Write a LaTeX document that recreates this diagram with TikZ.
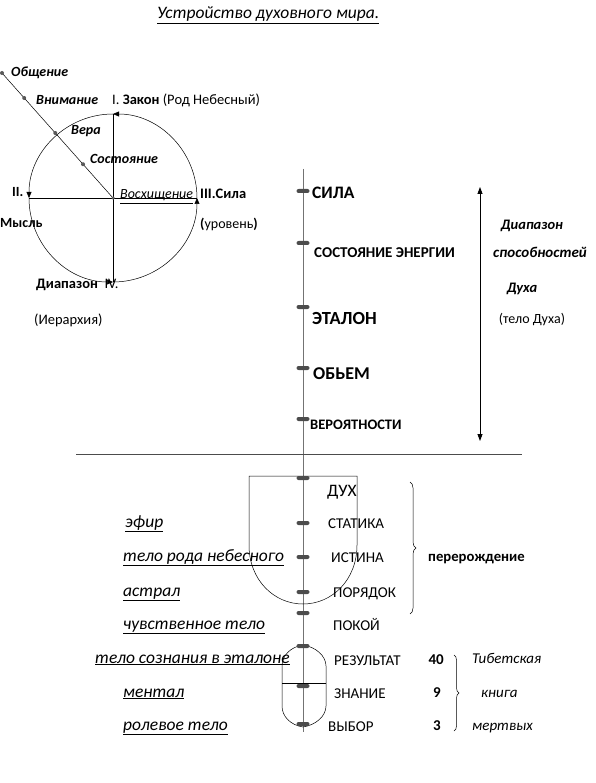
\documentclass[tikz,border=0pt]{standalone}
\usepackage{fontspec}
\setmainfont{Carlito}
\usetikzlibrary{arrows.meta,calc,decorations.pathreplacing}
\newcommand{\fs}[1]{\fontsize{#1}{#1}\selectfont}
\newcommand{\ulx}[1]{\underline{#1}}
\begin{document}
\begin{tikzpicture}[x=1pt,y=1pt,
  lab/.style={inner sep=0pt,anchor=base west},
  labr/.style={inner sep=0pt,anchor=base east},
  labc/.style={inner sep=0pt,anchor=base},
  circ/.style={font=\fs{14.5}},
  bi/.style={font=\fs{14}\bfseries\itshape},
  caps/.style={font=\fs{15}},
  body/.style={font=\fs{17.5}\itshape},
  tick/.style={draw=none,fill=black!70,rounded corners=2pt,minimum width=13pt,minimum height=4pt,inner sep=0pt},
  thin/.style={draw=black,line width=0.5pt},
  arr/.style={-{Triangle[length=6pt,width=5pt]}},
  dot/.style={circle,fill=black!65,inner sep=0pt,minimum size=4pt},
  brc/.style={decorate,decoration={brace,amplitude=6pt},line width=0.5pt}
]
\useasboundingbox (0,0) rectangle (595,-783);
\fill[white] (0,0) rectangle (595,-783);

% title
\node[lab,font=\fs{17.5}\itshape] (title) at (157,-19) {\ulx{Устройство духовного мира.}};

% circle
\coordinate (C) at (113,-198);
\coordinate (Ctop) at (113,-114);
\coordinate (Cbot) at (113,-282);
\coordinate (Cl) at (29,-198);
\coordinate (Cr) at (197,-198);
\draw[thin,arr] (Cr) arc[start angle=0,end angle=90,radius=84];
\draw[thin,arr] (Ctop) arc[start angle=90,end angle=180,radius=84];
\draw[thin,arr] (Cl) arc[start angle=180,end angle=270,radius=84];
\draw[thin,arr] (Cbot) arc[start angle=270,end angle=360,radius=84];
\draw[thin] (Ctop) -- (Cbot);
\draw[thin] (Cl) -- (Cr);
\coordinate (O) at (2,-73);
\draw[thin] (O) -- (C);
\node[dot] (d0) at (O) {};
\node[dot] (d1) at ($(O)!0.2!(C)$) {};
\node[dot] (d2) at ($(O)!0.48!(C)$) {};
\node[dot] (d3) at ($(O)!0.73!(C)$) {};
\node[dot,minimum size=3.5pt] (d4) at (C) {};

\node[lab,bi] (obsh) at (11,-77) {Общение};
\node[lab,bi] (vnim) at (36,-105) {Внимание};
\node[lab,circ] (zakon) at (112,-105) {I.\ \textbf{Закон} (Род Небесный)};
\node[lab,bi] (vera) at (71,-135) {Вера};
\node[lab,bi] (sost) at (90,-164) {Состояние};
\node[lab,font=\fs{14}\itshape] (vosh) at (120,-199) {\ulx{Восхищение}};
\node[lab,font=\fs{14.5}\bfseries] (sila3) at (200,-199) {III.Сила};
\node[lab,font=\fs{14}\bfseries] (ii) at (12,-197) {II.};
\node[lab,font=\fs{14}\bfseries] (mysl) at (0,-228) {Мысль};
\node[lab,font=\fs{14}] (urov) at (200,-229) {\textbf{(}уровень\textbf{)}};
\node[lab,circ] (diap) at (36,-288) {\textbf{Диапазон}\ \ IV.};
\node[lab,circ] (ier) at (34,-324) {(Иерархия)};

% main vertical line
\coordinate (vtop) at (303,-169);
\coordinate (vbot) at (303,-732);
\draw[black!55,line width=1pt] (vtop) -- (vbot);

% upper ticks
\node[tick] (t1) at (303,-191) {};
\node[tick] (t2) at (303,-243) {};
\node[tick] (t3) at (303,-307) {};
\node[tick] (t4) at (303,-368) {};
\node[tick] (t5) at (303,-419) {};
\node[lab,font=\fs{17.5}\bfseries] (sila) at (312,-199) {СИЛА};
\node[lab,font=\fs{15}\bfseries] (sosten) at (314,-258) {СОСТОЯНИЕ ЭНЕРГИИ};
\node[lab,font=\fs{18.5}\bfseries] (etalon) at (312,-324) {ЭТАЛОН};
\node[lab,font=\fs{18}\bfseries] (obem) at (313,-379) {ОБЬЕМ};
\node[lab,font=\fs{14.5}\bfseries] (veroy) at (310,-429) {ВЕРОЯТНОСТИ};

% double arrow
\coordinate (aTop) at (480,-187);
\coordinate (aBot) at (480,-441);
\draw[line width=0.8pt,{Triangle[length=7pt,width=5pt]}-{Triangle[length=7pt,width=5pt]}] (aTop) -- (aBot);
\node[labc,font=\fs{14.5}\bfseries\itshape] (r1) at (532,-230) {Диапазон};
\node[labc,font=\fs{15}\bfseries\itshape] (r2) at (540,-258) {способностей};
\node[labc,font=\fs{14.5}\bfseries\itshape] (r3) at (522,-292) {Духа};
\node[labc,font=\fs{14}] (r4) at (532,-323) {(тело Духа)};

% horizontal divider
\coordinate (hL) at (76,-454);
\coordinate (hR) at (522,-454);
\draw[black!70,line width=0.8pt] (hL) -- (hR);

% shield
\draw[thin] (249,-476) -- (357,-476) -- (357,-545)
  .. controls (357,-580) and (332,-604) .. (303,-604)
  .. controls (274,-604) and (249,-580) .. (249,-545) -- cycle;

% capsule
\draw[thin] (303,-645) .. controls (290,-647) and (282,-656) .. (282,-666) -- (282,-706)
  .. controls (282,-716) and (290,-725) .. (303,-727)
  .. controls (316,-725) and (326,-716) .. (326,-706) -- (326,-666)
  .. controls (326,-656) and (316,-647) .. (303,-645);
\draw[thin] (282,-683) -- (326,-683);

% lower ticks
\node[tick] (l1) at (303,-478) {};
\node[tick] (l2) at (303,-523) {};
\node[tick] (l3) at (303,-557) {};
\node[tick] (l4) at (303,-592) {};
\node[tick] (l5) at (303,-613) {};
\node[tick] (l6) at (303,-646) {};
\node[tick] (l7) at (303,-686) {};
\node[tick] (l8) at (303,-724) {};

\node[lab,font=\fs{17.5}] (duh) at (327,-496) {ДУХ};
\node[lab,caps] (stat) at (328,-528) {СТАТИКА};
\node[lab,caps] (ist) at (331,-562) {ИСТИНА};
\node[lab,caps] (por) at (333,-597) {ПОРЯДОК};
\node[lab,caps] (pok) at (333,-630) {ПОКОЙ};
\node[lab,caps] (rez) at (334,-665) {РЕЗУЛЬТАТ};
\node[lab,caps] (zn) at (334,-698) {ЗНАНИЕ};
\node[lab,caps] (vyb) at (328,-731) {ВЫБОР};

\node[lab,body] (efir) at (125,-527) {\ulx{эфир}};
\node[lab,body] (telo) at (123,-561) {\ulx{тело рода небесного}};
\node[lab,body] (astr) at (123,-596) {\ulx{астрал}};
\node[lab,body] (chuv) at (123,-629) {\ulx{чувственное тело}};
\node[lab,body] (soz) at (95,-663) {\ulx{тело сознания в эталоне}};
\node[lab,body] (ment) at (123,-697) {\ulx{ментал}};
\node[lab,body] (rol) at (123,-730) {\ulx{ролевое тело}};

% braces
\coordinate (b1a) at (410,-482);
\coordinate (b1b) at (410,-614);
\draw[brc] (b1a) -- (b1b);
\node[lab,font=\fs{14.7}\bfseries] (perer) at (428,-561) {перерождение};

\node[labr,font=\fs{15}\bfseries] (n40) at (444,-664) {40};
\node[labr,font=\fs{15}\bfseries] (n9) at (441,-697) {9};
\node[labr,font=\fs{15}\bfseries] (n3) at (441,-730) {3};
\coordinate (b2a) at (454,-655);
\coordinate (b2b) at (454,-731);
\draw[brc,decoration={brace,amplitude=5pt}] (b2a) -- (b2b);
\node[lab,font=\fs{15}\itshape] (tib) at (472,-663) {Тибетская};
\node[lab,font=\fs{15}\itshape] (kn) at (481,-697) {книга};
\node[lab,font=\fs{15}\itshape] (mert) at (472,-730) {мертвых};
\end{tikzpicture}
\end{document}
